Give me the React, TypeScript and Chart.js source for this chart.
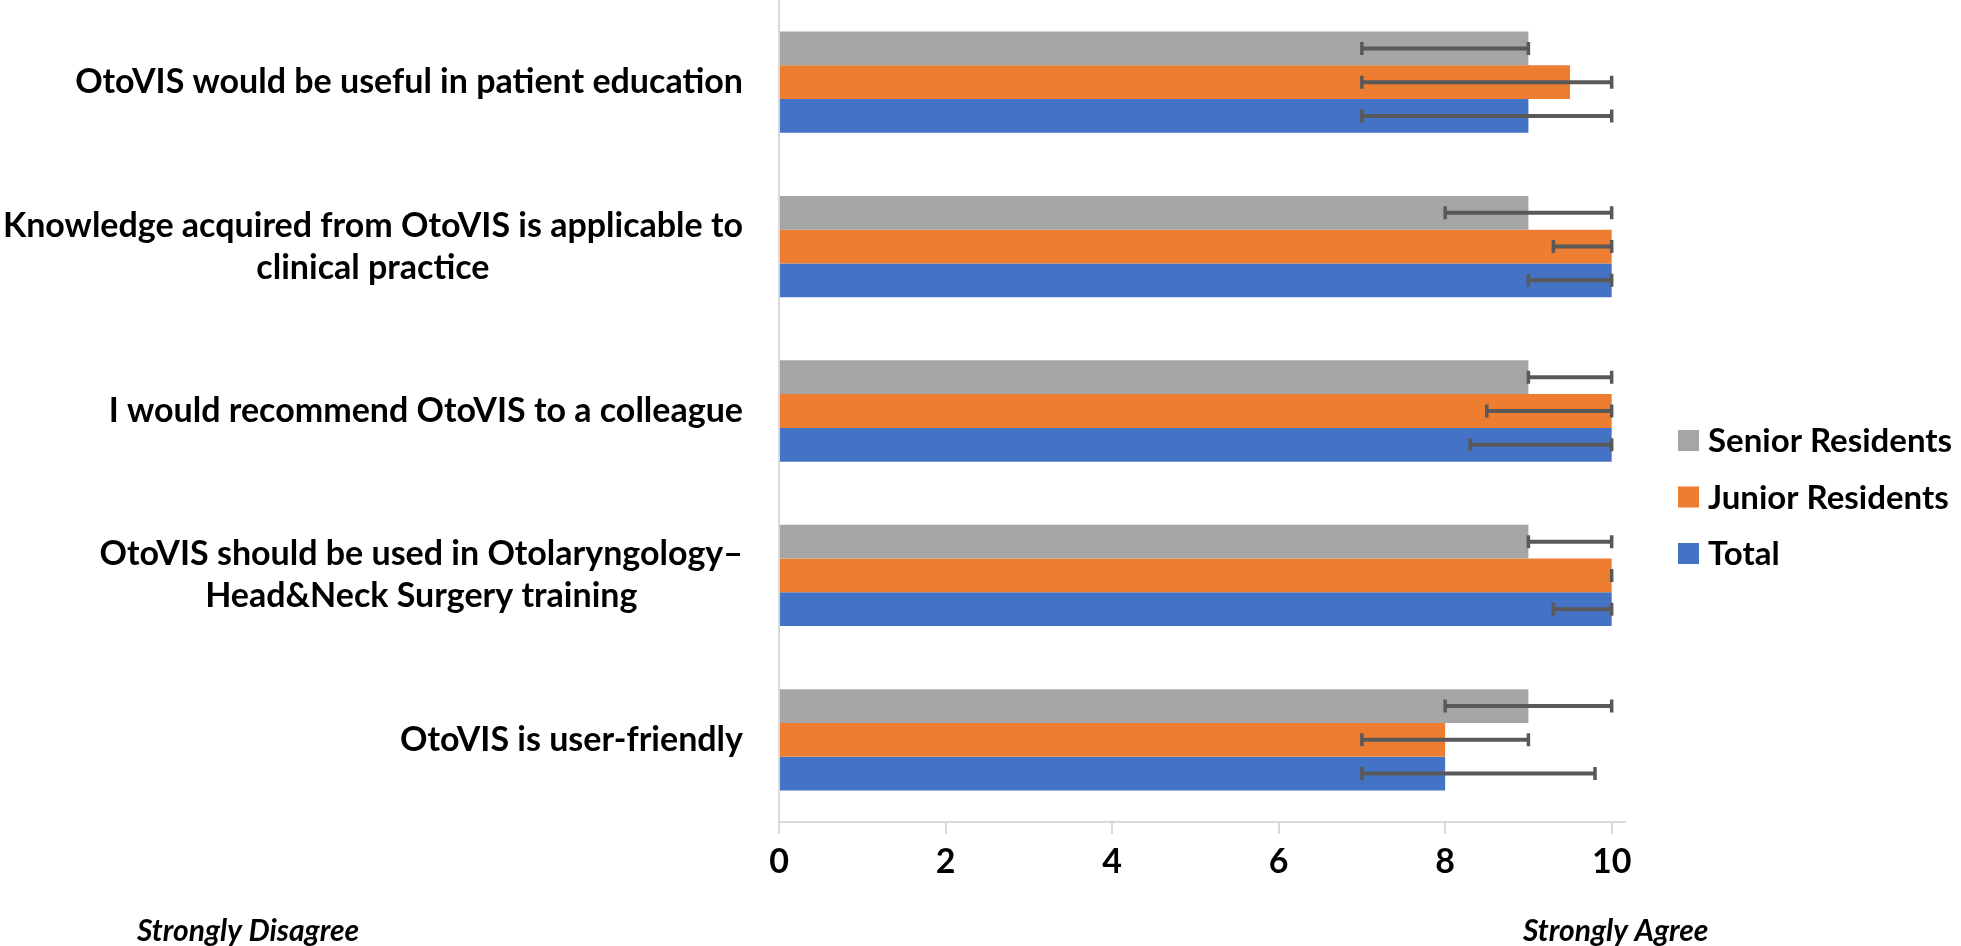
import React, { useEffect, useRef } from "react";
import { Chart, registerables } from "chart.js";

Chart.register(...registerables);

const categoryLines: string[][] = [
  ["OtoVIS would be useful in patient education"],
  ["Knowledge acquired from OtoVIS is applicable to", "clinical practice"],
  ["I would recommend OtoVIS to a colleague"],
  ["OtoVIS should be used in Otolaryngology\u2013", "Head&Neck Surgery training"],
  ["OtoVIS is user-friendly"],
];
const seriesNames = ["Senior Residents", "Junior Residents", "Total"];
const seriesColors = ["#A5A5A5", "#ED7D31", "#4472C4"];

const seniorValues = [9, 9, 9, 9, 9];
const juniorValues = [9.5, 10, 10, 10, 8];
const totalValues = [9, 10, 10, 10, 8];

const seniorLow = [7, 8, 9, 9, 8];
const seniorHigh = [9, 10, 10, 10, 10];
const juniorLow = [7, 9.3, 8.5, 10, 7];
const juniorHigh = [10, 10, 10, 10, 9];
const totalLow = [7, 9, 8.3, 9.3, 7];
const totalHigh = [10, 10, 10, 10, 9.8];

const xTickValues = [0, 2, 4, 6, 8, 10];
const xMax = 10.16;
const leftNote = "Strongly Disagree";
const rightNote = "Strongly Agree";

const FONT = "Lato, 'DejaVu Sans', sans-serif";

export default function App() {
  const ref = useRef<HTMLCanvasElement | null>(null);

  useEffect(() => {
    const canvas = ref.current;
    if (!canvas) return;
    const values = [seniorValues, juniorValues, totalValues];
    const lows = [seniorLow, juniorLow, totalLow];
    const highs = [seniorHigh, juniorHigh, totalHigh];

    const overlay = {
      id: "overlay",
      afterDatasetsDraw(chart: any) {
        const ctx = chart.ctx;
        const xs = chart.scales.x;
        ctx.save();
        ctx.strokeStyle = "#595959";
        ctx.lineWidth = 4;
        ctx.lineCap = "butt";
        for (let i = 0; i < values.length; i++) {
          const meta = chart.getDatasetMeta(i);
          meta.data.forEach((bar: any, j: number) => {
            const y = bar.y;
            const x1 = xs.getPixelForValue(lows[i][j]);
            const x2 = xs.getPixelForValue(highs[i][j]);
            ctx.beginPath();
            ctx.moveTo(x1, y);
            ctx.lineTo(x2, y);
            ctx.stroke();
            ctx.lineWidth = 3.5;
            ctx.beginPath();
            ctx.moveTo(x1, y - 6.5);
            ctx.lineTo(x1, y + 6.5);
            ctx.moveTo(x2, y - 6.5);
            ctx.lineTo(x2, y + 6.5);
            ctx.stroke();
            ctx.lineWidth = 4;
          });
        }
        ctx.restore();
      },
      afterDraw(chart: any) {
        const ctx = chart.ctx;
        const ys = chart.scales.y;
        const xs = chart.scales.x;
        const area = chart.chartArea;
        ctx.save();
        // category labels
        ctx.fillStyle = "#000";
        ctx.font = `bold 34px ${FONT}`;
        ctx.textBaseline = "middle";
        ctx.textAlign = "center";
        const right = area.left - 36;
        const lh = 42;
        categoryLines.forEach((lines, i) => {
          const cy = ys.getPixelForValue(i);
          const w = Math.max(...lines.map((l) => ctx.measureText(l).width));
          const cx = right - w / 2;
          lines.forEach((l, k) => {
            ctx.fillText(l, cx, cy + (k - (lines.length - 1) / 2) * lh);
          });
        });
        // legend
        ctx.font = `bold 33px ${FONT}`;
        ctx.textAlign = "left";
        const lx = area.right + 53;
        const midY = 497;
        seriesNames.forEach((name, i) => {
          const cy = midY + (i - 1) * 56.5;
          ctx.fillStyle = seriesColors[i];
          ctx.fillRect(lx, cy - 10.5, 21, 21);
          ctx.fillStyle = "#000";
          ctx.fillText(name, lx + 30, cy + 1);
        });
        // bottom notes
        ctx.font = `italic bold 30px ${FONT}`;
        ctx.textAlign = "center";
        ctx.fillText(leftNote, 248, 931);
        ctx.fillText(rightNote, xs.getPixelForValue(10) + 4, 931);
        ctx.restore();
      },
    };

    const chart = new Chart(canvas, {
      type: "bar",
      data: {
        labels: categoryLines.map((l) => l.join(" ")),
        datasets: seriesNames.map((name, i) => ({
          label: name,
          data: values[i],
          backgroundColor: seriesColors[i],
          borderWidth: 0,
          categoryPercentage: 0.616,
          barPercentage: 1,
        })),
      },
      options: {
        indexAxis: "y",
        animation: false,
        responsive: false,
        layout: { padding: { left: 0, right: 336, top: 0, bottom: 0 } },
        plugins: {
          legend: { display: false },
          tooltip: { enabled: false },
        },
        scales: {
          x: {
            type: "linear",
            min: 0,
            max: xMax,
            afterBuildTicks: (s: any) => {
              s.ticks = xTickValues.map((v) => ({ value: v }));
            },
            afterFit: (s: any) => {
              s.height = 124;
            },
            grid: {
              display: true,
              drawOnChartArea: false,
              drawTicks: true,
              tickLength: 12,
              color: "#D9D9D9",
              lineWidth: 2,
            },
            border: { display: true, color: "#D9D9D9", width: 2 },
            ticks: {
              color: "#000",
              padding: 8,
              font: { family: FONT, size: 34, weight: "bold" },
            },
          },
          y: {
            type: "category",
            offset: true,
            grid: { display: false },
            border: { display: true, color: "#D9D9D9", width: 2 },
            ticks: { display: false },
            afterFit: (s: any) => {
              s.width = 779;
            },
          },
        },
      },
      plugins: [overlay],
    } as any);

    return () => chart.destroy();
  }, []);

  return (
    <div style={{ position: "fixed", left: 0, top: 0, width: "1961px", height: "946px", background: "#fff" }}>
      <canvas ref={ref} width={1961} height={946} style={{ display: "block" }} />
    </div>
  );
}
